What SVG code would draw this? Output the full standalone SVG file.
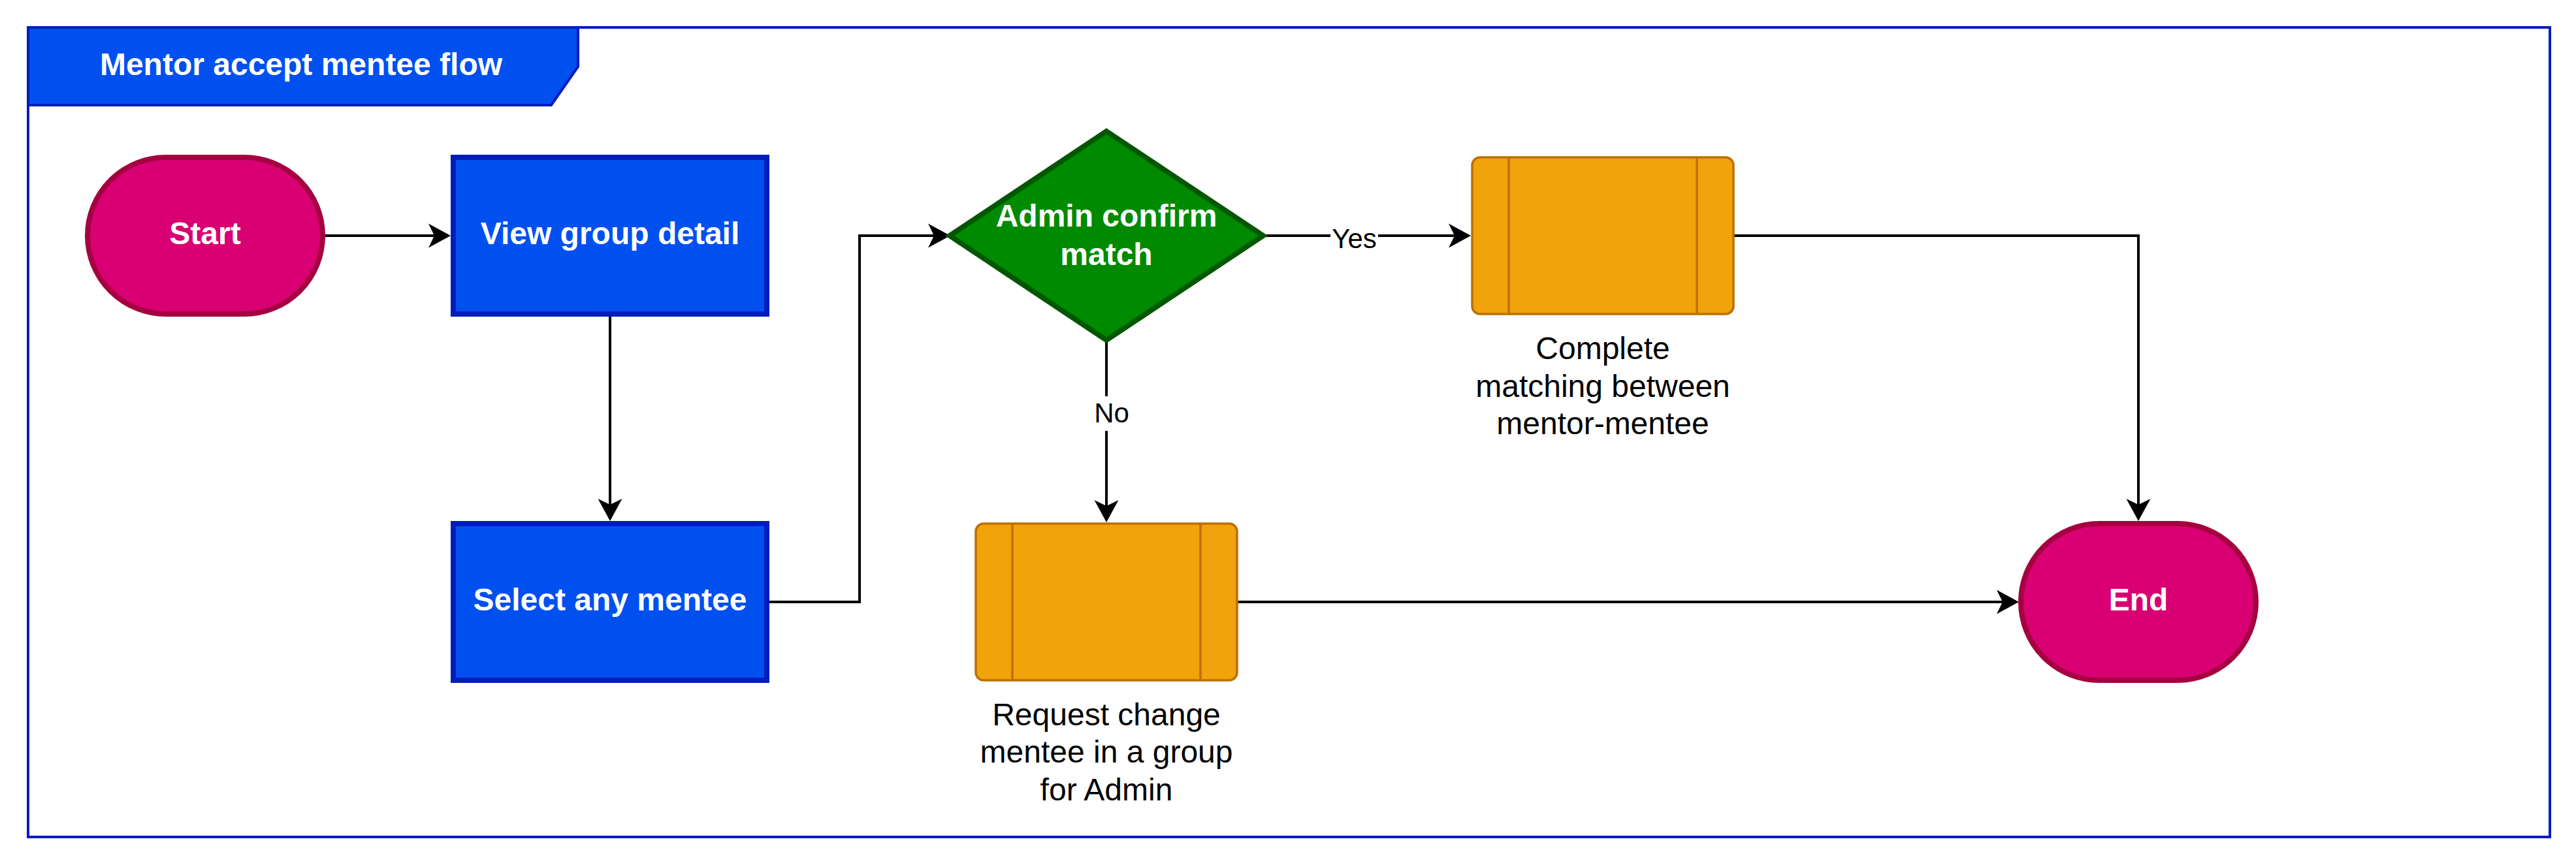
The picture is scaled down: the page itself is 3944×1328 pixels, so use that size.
<svg xmlns="http://www.w3.org/2000/svg" width="3944" height="1328" viewBox="0 0 3944 1328">
<defs>
<style>
.t{font-family:"Liberation Sans",Arial,Helvetica,sans-serif;text-anchor:middle}
.wb{fill:#FFFFFF;font-weight:bold;font-size:48px}
.bk{fill:#000000;font-size:48px}
.lb{fill:#000000;font-size:42px}
.blue{fill:#0050EF;stroke:#001DBC;stroke-width:8}
.pink{fill:#D80073;stroke:#A50040;stroke-width:8}
.green{fill:#008A00;stroke:#005700;stroke-width:8}
.orange{fill:#F0A30A;stroke:#BD7000;stroke-width:3.5}
.inner{stroke:#BD7000;stroke-width:3.5;fill:none}
.edge{fill:none;stroke:#000000;stroke-width:4;marker-end:url(#arr)}
</style>
<marker id="arr" markerUnits="userSpaceOnUse" markerWidth="44" markerHeight="44" viewBox="-38 -22 44 44" refX="-20" refY="0" orient="auto">
<path d="M0,0 L-34,-18.5 L-25,0 L-34,18.5 Z" fill="#000000"/>
</marker>
</defs>
<rect x="0" y="0" width="3944" height="1328" fill="#FFFFFF"/>
<g id="frame">
<rect x="43" y="42" width="3861" height="1240" fill="none" stroke="#001DBC" stroke-width="4"/>
<path d="M43,42 L885,42 L885,102 L844,161 L43,161 Z" fill="#0050EF" stroke="#001DBC" stroke-width="4"/>
<text class="t wb" x="461" y="114.5">Mentor accept mentee flow</text>
</g>
<g id="connectors">
<path class="edge" d="M494,361 L670,361"/>
<path class="edge" d="M934,481 L934,778"/>
<path class="edge" d="M1174,922 L1316,922 L1316,361 L1435,361"/>
<path class="edge" d="M1934,361 L2232,361"/>
<path class="edge" d="M2654,361 L3274,361 L3274,778"/>
<path class="edge" d="M1694,521 L1694,780"/>
<path class="edge" d="M1894,922 L3071,922"/>
<rect x="2037" y="336" width="73" height="48" fill="#FFFFFF"/>
<text class="t lb" x="2073.5" y="380">Yes</text>
<rect x="1675" y="607" width="54" height="53" fill="#FFFFFF"/>
<text class="t lb" x="1702" y="647">No</text>
</g>
<g id="start">
<rect class="pink" x="134" y="241" width="360" height="240" rx="120" ry="120"/>
<text class="t wb" x="314" y="373.5">Start</text>
</g>
<g id="view-group-detail">
<rect class="blue" x="694" y="241" width="480" height="240"/>
<text class="t wb" x="934" y="373.5">View group detail</text>
</g>
<g id="select-any-mentee">
<rect class="blue" x="694" y="802" width="480" height="240"/>
<text class="t wb" x="934" y="934.5">Select any mentee</text>
</g>
<g id="admin-confirm-match">
<path class="green" d="M1694,201 L1934,361 L1694,521 L1454,361 Z"/>
<text class="t wb" x="1694" y="347">Admin confirm</text>
<text class="t wb" x="1694" y="406">match</text>
</g>
<g id="complete-matching">
<rect class="orange" x="2254" y="241" width="400" height="240" rx="12" ry="12"/>
<line class="inner" x1="2310" y1="241" x2="2310" y2="481"/>
<line class="inner" x1="2598" y1="241" x2="2598" y2="481"/>
<text class="t bk" x="2454" y="550">Complete</text>
<text class="t bk" x="2454" y="607.6">matching between</text>
<text class="t bk" x="2454" y="665.2">mentor-mentee</text>
</g>
<g id="request-change">
<rect class="orange" x="1494" y="802" width="400" height="240" rx="12" ry="12"/>
<line class="inner" x1="1550" y1="802" x2="1550" y2="1042"/>
<line class="inner" x1="1838" y1="802" x2="1838" y2="1042"/>
<text class="t bk" x="1694" y="1110.5">Request change</text>
<text class="t bk" x="1694" y="1168">mentee in a group</text>
<text class="t bk" x="1694" y="1225.5">for Admin</text>
</g>
<g id="end">
<rect class="pink" x="3094" y="802" width="360" height="240" rx="120" ry="120"/>
<text class="t wb" x="3274" y="934.5">End</text>
</g>
</svg>
